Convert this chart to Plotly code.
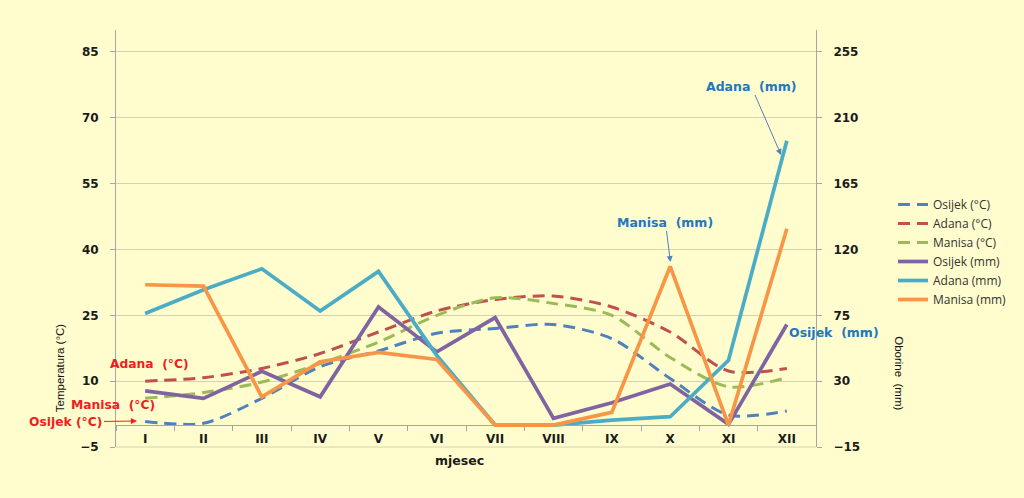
import plotly.graph_objects as go

months = ["I", "II", "III", "IV", "V", "VI", "VII", "VIII", "IX", "X", "XI", "XII"]

osijek_temp = [0.8, 0.4, 6.1, 13.3, 16.9, 20.9, 22.0, 22.9, 19.7, 10.6, 2.3, 3.2]
adana_temp = [10.0, 10.8, 12.9, 16.3, 21.2, 26.0, 28.6, 29.4, 26.9, 21.2, 12.3, 12.9]
manisa_temp = [6.1, 7.4, 9.8, 14.0, 18.9, 25.0, 29.0, 27.7, 25.0, 15.4, 8.7, 10.8]

osijek_mm = [23.4, 18.2, 36.8, 19.3, 80.7, 50.0, 73.4, 4.6, 15.2, 28.0, 0.5, 68.7]
adana_mm = [76.2, 92.5, 106.8, 77.9, 105.0, 47.5, 0.0, 0.0, 3.4, 5.7, 44.3, 194.3]
manisa_mm = [95.9, 95.0, 19.3, 43.2, 49.6, 44.8, 0.0, 0.0, 8.7, 108.4, 0.0, 134.1]

left_ticks = [-5, 10, 25, 40, 55, 70, 85]
right_ticks = [-15, 30, 75, 120, 165, 210, 255]

BG = "#FFFDCD"
AXC = "#A6A6A6"
GRIDC = "#D4D2B0"
TICKFONT = dict(family="DejaVu Sans", size=12, color="#1a1a1a", weight="bold")

fig = go.Figure()

temp_series = [
    ("Osijek (°C)", osijek_temp, "#4F81BD"),
    ("Adana (°C)", adana_temp, "#C0504D"),
    ("Manisa (°C)", manisa_temp, "#9BBB59"),
]
for name, vals, col in temp_series:
    fig.add_trace(go.Scatter(
        x=months, y=vals, name=name, mode="lines",
        line=dict(color=col, width=3, dash="12px,7px", shape="spline", smoothing=0.8),
        yaxis="y", xaxis="x"))

mm_series = [
    ("Osijek (mm)", osijek_mm, "#8064A2"),
    ("Adana (mm)", adana_mm, "#4BACC6"),
    ("Manisa (mm)", manisa_mm, "#F79646"),
]
for name, vals, col in mm_series:
    fig.add_trace(go.Scatter(
        x=months, y=vals, name=name, mode="lines",
        line=dict(color=col, width=3.7),
        yaxis="y2", xaxis="x"))

L, R, T, B = 116, 206, 30, 51
W, H = 1024, 498
pw, ph = W - L - R, H - T - B


def px(xp):
    return (xp - L) / pw


def py(yp):
    return (H - B - yp) / ph


fig.update_layout(
    width=W, height=H,
    paper_bgcolor=BG, plot_bgcolor=BG,
    margin=dict(l=L, r=R, t=T, b=B),
    showlegend=True,
    legend=dict(x=1.11, y=py(190), xanchor="left", yanchor="top",
                bgcolor="rgba(0,0,0,0)",
                font=dict(family="Open Sans", size=12, color="#333333"),
                tracegroupgap=0),
    xaxis=dict(type="category", range=[-0.5, 11.5], anchor="free",
               position=5 / 95, showline=True, linecolor=AXC, linewidth=1,
               ticks="outside", ticklen=5, tickcolor=AXC, tickson="boundaries",
               ticklabelstandoff=3, showgrid=False, tickfont=TICKFONT),
    yaxis=dict(range=[-5, 90], tickvals=left_ticks, showline=True, linecolor=AXC,
               gridcolor=GRIDC, gridwidth=1, zeroline=False, tickfont=TICKFONT,
               ticks="outside", ticklen=5, tickcolor=AXC, ticklabelstandoff=9),
    yaxis2=dict(range=[-15, 270], tickvals=right_ticks, overlaying="y", side="right",
                showline=True, linecolor=AXC, showgrid=False, zeroline=False,
                tickfont=TICKFONT, ticks="outside", ticklen=5, tickcolor=AXC,
                ticklabelstandoff=9),
)

# bottom grid line at range bottom
fig.add_shape(type="line", xref="paper", yref="paper", x0=0, x1=1, y0=0, y1=0,
              line=dict(color=GRIDC, width=1))

ann_blue = "#1F77C0"
ann_red = "#F01E1E"
afont_b = dict(family="DejaVu Sans", size=12.5, color=ann_blue, weight="bold")
afont_r = dict(family="DejaVu Sans", size=12.3, color=ann_red, weight="bold")

# (text, head_x, head_y, text_x, text_y, font, arrowcolor) in pixels
arrow_annots = [
    ("Adana  (mm)", 783, 155, 753, 86, afont_b, "#4F81BD"),
    ("Manisa  (mm)", 672, 262, 667, 222, afont_b, "#4F81BD"),
    ("Osijek (°C)", 137, 421, 66, 422, afont_r, ann_red),
]
for text, hx, hy, tx, ty, f, ac in arrow_annots:
    fig.add_annotation(text=text, xref="paper", yref="paper", x=px(hx), y=py(hy),
                       axref="pixel", ayref="pixel", ax=tx - hx, ay=ty - hy,
                       showarrow=True, arrowhead=2, arrowsize=1.2, arrowwidth=1,
                       arrowcolor=ac, standoff=0, font=f)

TITLEFONT = dict(family="Liberation Sans", size=11.5, color="#111111")
plain_annots = [
    ("Osijek  (mm)", 836, 332, 0, afont_b),
    ("Adana  (°C)", 150, 364, 0, afont_r),
    ("Manisa  (°C)", 113, 405, 0, afont_r),
    ("mjesec", 460, 460, 0, dict(family="DejaVu Sans", size=12.5, color="#1a1a1a",
                                 weight="bold")),
    ("Temperatura (°C)", 60, 368, -90, TITLEFONT),
    ("Oborine  (mm)", 901, 373, 90, TITLEFONT),
]
for text, tx, ty, ang, f in plain_annots:
    fig.add_annotation(text=text, xref="paper", yref="paper", x=px(tx), y=py(ty),
                       xanchor="center", yanchor="middle", showarrow=False,
                       textangle=ang, font=f)

fig.write_html(
    "out.html",
    config={"displayModeBar": False},
    post_script=("document.body.style.margin='0';"
                 "document.body.style.background='" + BG + "';"
                 "document.documentElement.style.background='" + BG + "';"
                 "document.body.style.overflow='hidden';"),
)
